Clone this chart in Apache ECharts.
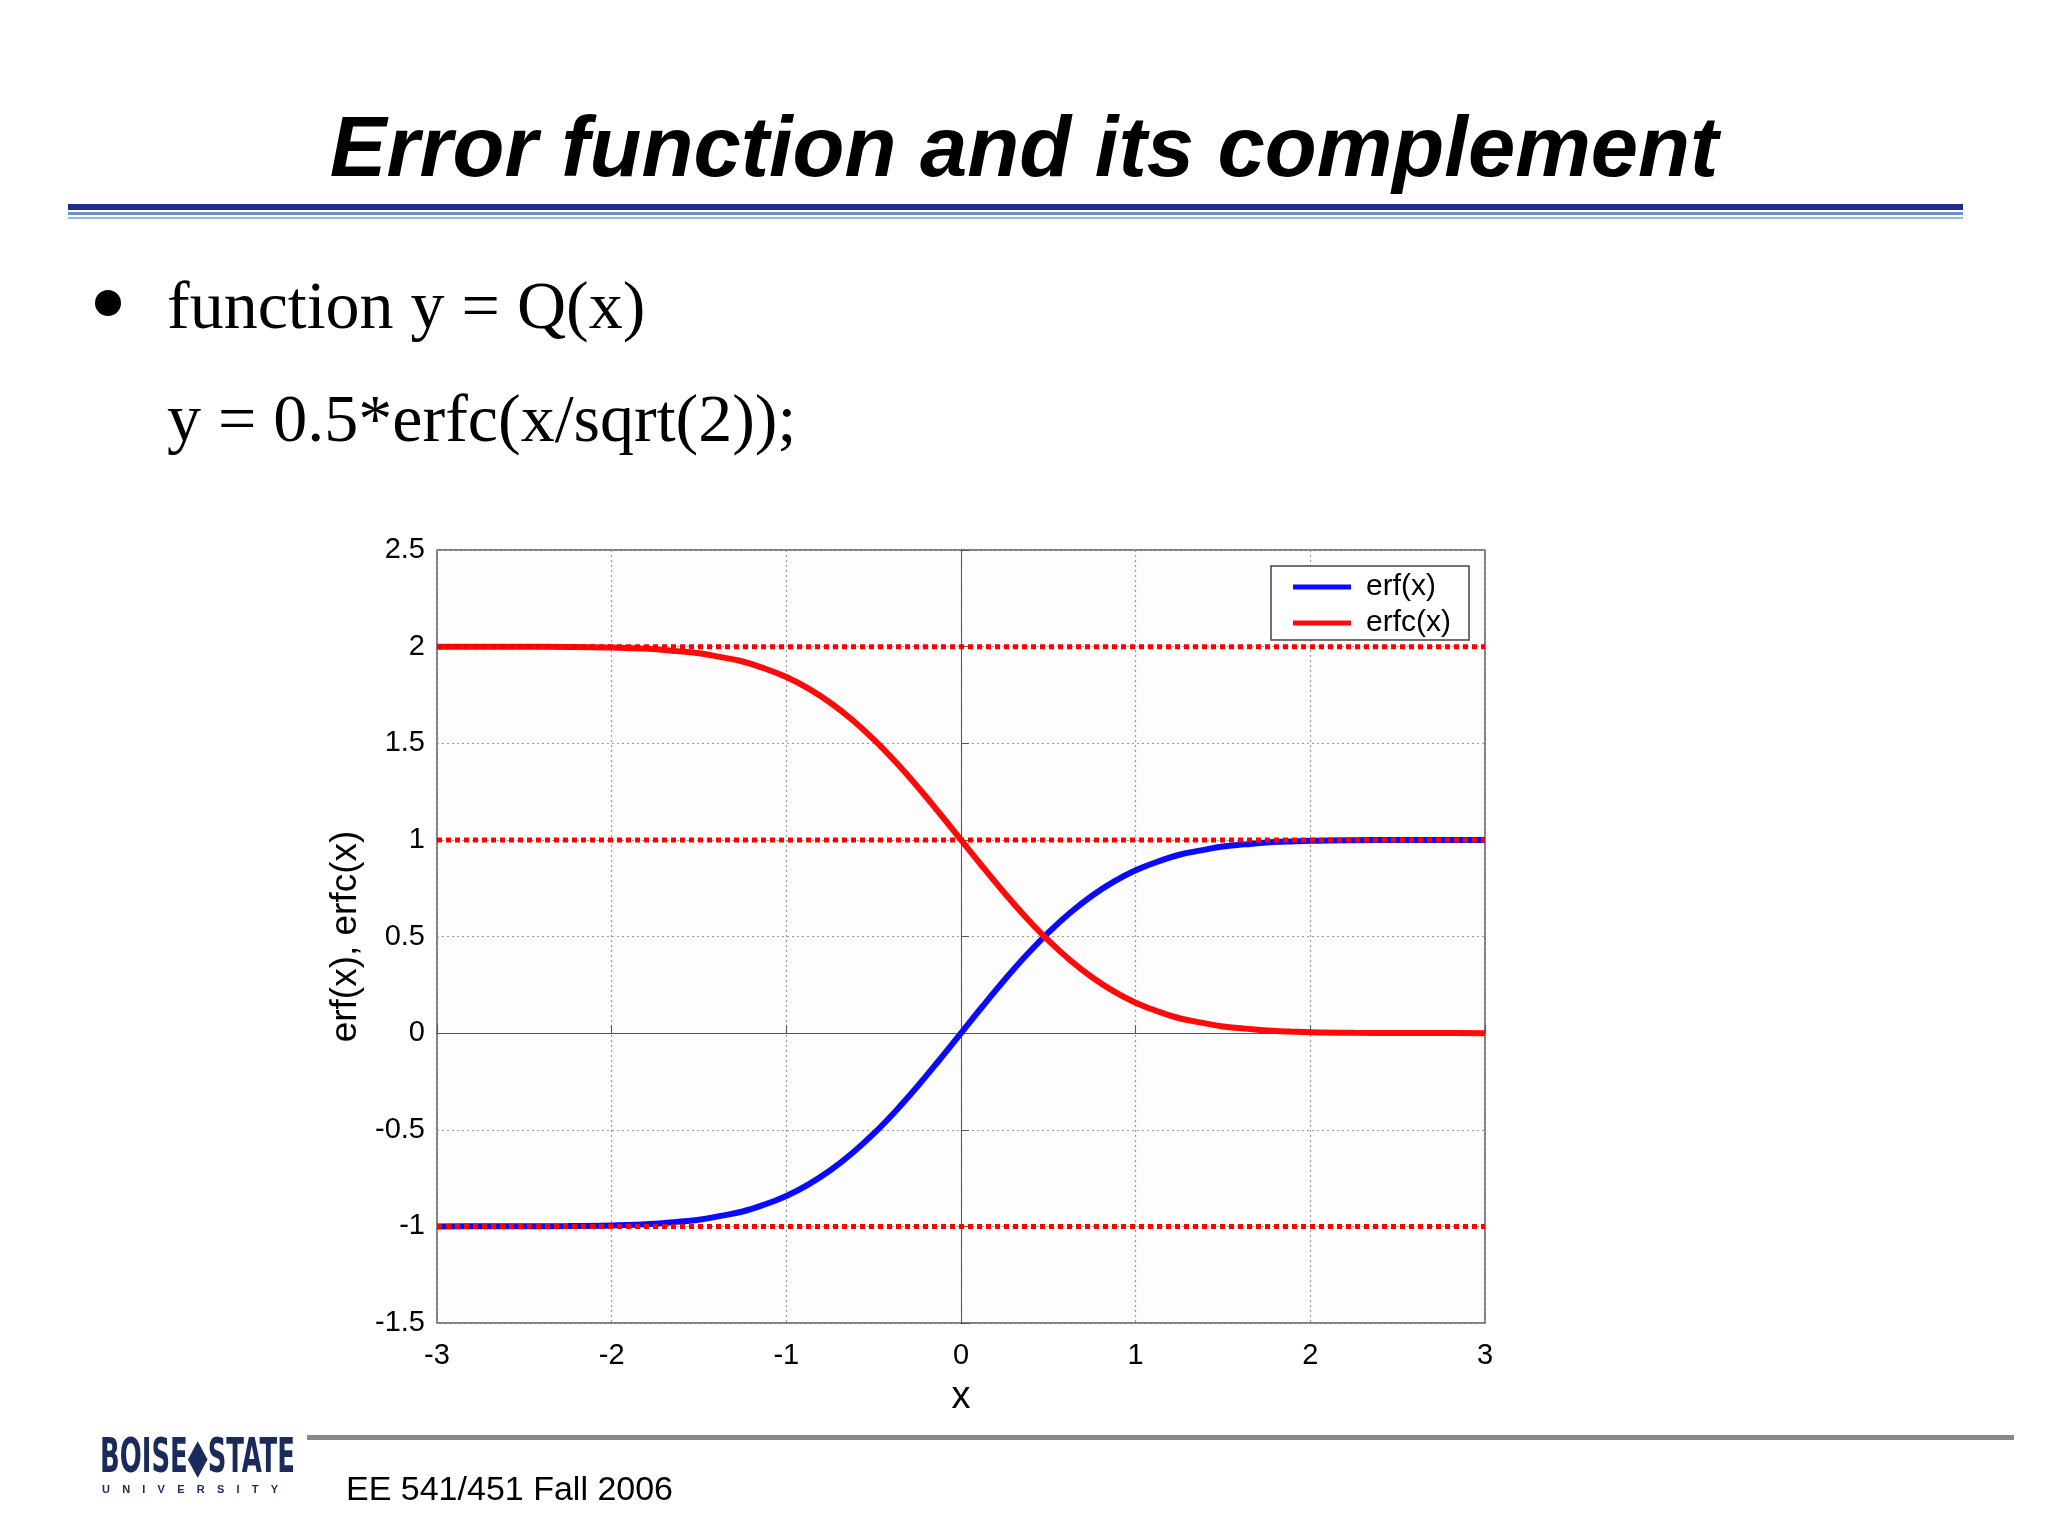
<!DOCTYPE html>
<html><head><meta charset="utf-8">
<script src="https://cdn.jsdelivr.net/npm/echarts@6/dist/echarts.min.js"></script>
<style>html,body{margin:0;padding:0;background:#fff}#c{width:2048px;height:1536px}</style>
</head><body><div id="c"></div>
<script>
const xs = [-3,-2.75,-2.5,-2.25,-2,-1.875,-1.75,-1.625,-1.5,-1.375,-1.25,-1.125,-1,-0.875,-0.75,-0.625,-0.5,-0.375,-0.25,-0.125,0,0.125,0.25,0.375,0.5,0.625,0.75,0.875,1,1.125,1.25,1.375,1.5,1.625,1.75,1.875,2,2.25,2.5,2.75,3];
const erfVals = [-1,-0.9999,-0.9996,-0.9985,-0.9953,-0.9910,-0.9867,-0.9767,-0.9661,-0.9456,-0.9229,-0.8868,-0.8427,-0.7840,-0.7112,-0.6232,-0.5205,-0.4041,-0.2763,-0.1403,0,0.1403,0.2763,0.4041,0.5205,0.6232,0.7112,0.7840,0.8427,0.8868,0.9229,0.9456,0.9661,0.9767,0.9867,0.9910,0.9953,0.9985,0.9996,0.9999,1];
const erfcVals = [2,1.9999,1.9996,1.9985,1.9953,1.9910,1.9867,1.9767,1.9661,1.9456,1.9229,1.8868,1.8427,1.7840,1.7112,1.6232,1.5205,1.4041,1.2763,1.1403,1,0.8597,0.7237,0.5959,0.4795,0.3768,0.2888,0.2160,0.1573,0.1132,0.0771,0.0544,0.0339,0.0233,0.0133,0.0090,0.0047,0.0015,0.0004,0.0001,0];
const refLevels = [2,1,-1];

const chart = echarts.init(document.getElementById('c'));
const series = [
  {name:'erf(x)',type:'line',smooth:0.4,showSymbol:false,data:xs.map((x,i)=>[x,erfVals[i]]),lineStyle:{color:'#0a0aff',width:6},itemStyle:{color:'#0a0aff'},z:3},
  {name:'erfc(x)',type:'line',smooth:0.4,showSymbol:false,data:xs.map((x,i)=>[x,erfcVals[i]]),lineStyle:{color:'#ff0a0a',width:6},itemStyle:{color:'#ff0a0a'},z:3}
];
refLevels.forEach(v=>series.push({type:'line',showSymbol:false,silent:true,data:[[-3,v],[3,v]],lineStyle:{color:'#ff0000',width:5,type:[5,4]},z:4}));
chart.setOption({
  animation:false,
  backgroundColor:'#fff',
  grid:{left:437,right:2048-1485,top:550,bottom:1536-1323,backgroundColor:'#fdfdfd',show:true,borderColor:'#555',borderWidth:1.5},
  xAxis:{type:'value',min:-3,max:3,interval:1,name:'x',nameLocation:'middle',nameGap:56,
    nameTextStyle:{fontFamily:'Liberation Sans',fontSize:38,color:'#000'},
    axisLine:{lineStyle:{color:'#555'}},axisTick:{inside:true,length:8,lineStyle:{color:'#555'}},
    axisLabel:{fontFamily:'Liberation Sans',fontSize:29,color:'#000',margin:18},
    splitLine:{lineStyle:{color:'#999',type:[2,3],width:1.2}}},
  yAxis:{type:'value',min:-1.5,max:2.5,interval:0.5,name:'erf(x), erfc(x)',nameLocation:'middle',nameGap:60,
    nameTextStyle:{fontFamily:'Liberation Sans',fontSize:37,color:'#000'},
    axisLine:{lineStyle:{color:'#555'}},axisTick:{inside:true,length:8,lineStyle:{color:'#555'}},
    axisLabel:{fontFamily:'Liberation Sans',fontSize:29,color:'#000',margin:12},
    splitLine:{lineStyle:{color:'#999',type:[2,3],width:1.2}}},
  legend:{data:['erf(x)','erfc(x)'],orient:'vertical',right:2048-1469,top:566,itemWidth:58,itemHeight:5,itemGap:6,
    icon:'rect',backgroundColor:'#fff',borderColor:'#444',borderWidth:1.5,padding:[6,18,2,22],
    textStyle:{fontFamily:'Liberation Sans',fontSize:30,color:'#000',padding:[0,0,0,10]}},
  series:series,
  graphic:[
    {type:'text',left:'center',top:110,style:{text:'Error function and its complement',font:'italic bold 85px "Liberation Sans"',fill:'#000',
      shadowColor:'rgba(0,0,0,0.35)',shadowOffsetX:4,shadowOffsetY:4,shadowBlur:2}},
    {type:'rect',shape:{x:68,y:204,width:1895,height:6},style:{fill:'#1a2f8c'}},
    {type:'rect',shape:{x:68,y:212,width:1895,height:3},style:{fill:'#6c8fd0'}},
    {type:'rect',shape:{x:68,y:217,width:1895,height:2},style:{fill:'#9bb3e0'}},
    {type:'circle',shape:{cx:108,cy:303,r:13},style:{fill:'#000'}},
    {type:'text',left:167,top:276,style:{text:'function y = Q(x)',font:'68px "Liberation Serif"',fill:'#000'}},
    {type:'text',left:167,top:389,style:{text:'y = 0.5*erfc(x/sqrt(2));',font:'68px "Liberation Serif"',fill:'#000'}},
    {type:'rect',shape:{x:307,y:1435,width:1707,height:5},style:{fill:'#888'}},
    {type:'text',left:346,top:1474,style:{text:'EE 541/451 Fall 2006',font:'34px "Liberation Sans"',fill:'#000'}},
    {type:'text',x:100,y:1436,scaleX:0.6,style:{text:'BOISE\u25C6STATE',font:'bold 48px "DejaVu Sans Condensed"',fill:'#1a2a5a'}},
    {type:'text',x:102,y:1484,style:{text:'U    N    I    V    E    R    S    I    T    Y',font:'bold 11px "Liberation Sans"',fill:'#1a2a5a'}}
  ]
});
</script></body></html>
